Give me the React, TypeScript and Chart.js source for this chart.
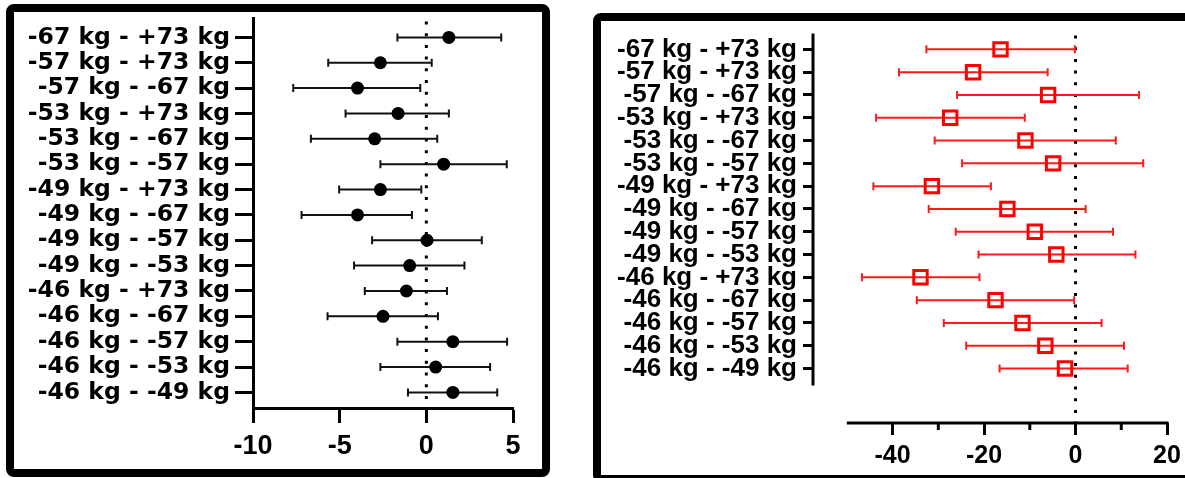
import React, { useEffect, useRef } from "react";
import { Chart, registerables } from "chart.js";

Chart.register(...registerables);

const categories = [
  "-67 kg - +73 kg",
  "-57 kg - +73 kg",
  "-57 kg - -67 kg",
  "-53 kg - +73 kg",
  "-53 kg - -67 kg",
  "-53 kg - -57 kg",
  "-49 kg - +73 kg",
  "-49 kg - -67 kg",
  "-49 kg - -57 kg",
  "-49 kg - -53 kg",
  "-46 kg - +73 kg",
  "-46 kg - -67 kg",
  "-46 kg - -57 kg",
  "-46 kg - -53 kg",
  "-46 kg - -49 kg",
];

// Left panel (black circles)
const leftMean = [1.3, -2.65, -3.97, -1.63, -2.98, 1.0, -2.65, -3.97, 0.04, -0.96, -1.15, -2.5, 1.53, 0.54, 1.53];
const leftLow = [-1.67, -5.66, -7.68, -4.66, -6.66, -2.65, -5.03, -7.2, -3.13, -4.17, -3.55, -5.7, -1.67, -2.65, -1.06];
const leftHigh = [4.32, 0.31, -0.35, 1.3, 0.63, 4.64, -0.29, -0.83, 3.2, 2.2, 1.19, 0.67, 4.66, 3.68, 4.09];

// Right panel (red open squares)
const rightMean = [-16.4, -22.4, -6.0, -27.4, -10.95, -4.9, -31.4, -14.9, -8.9, -4.2, -33.9, -17.5, -11.6, -6.6, -2.3];
const rightLow = [-32.6, -38.6, -25.9, -43.6, -30.8, -24.8, -44.2, -32.1, -26.2, -21.2, -46.7, -34.7, -28.8, -23.9, -16.6];
const rightHigh = [-0.15, -6.1, 13.9, -11.1, 8.8, 14.8, -18.5, 2.2, 8.2, 13.1, -21.0, -0.3, 5.7, 10.6, 11.4];

const leftXTicks = [-10, -5, 0, 5];
const rightXTicks = [-40, -20, 0, 20];
const rightMinorTicks = [-30, -10, 10];
const rightAxisStart = -50;

function errorBarPlugin(low: number[], high: number[], color: string, capHalf: number, lw: number) {
  return {
    id: "errorBars",
    beforeDatasetsDraw(chart: any) {
      const { ctx } = chart;
      const x = chart.scales.x;
      const y = chart.scales.y;
      ctx.save();
      ctx.strokeStyle = color;
      ctx.lineWidth = lw;
      ctx.lineCap = "butt";
      low.forEach((lo, i) => {
        const py = y.getPixelForValue(i + 1);
        const x1 = x.getPixelForValue(lo);
        const x2 = x.getPixelForValue(high[i]);
        ctx.beginPath();
        ctx.moveTo(x1, py);
        ctx.lineTo(x2, py);
        ctx.moveTo(x1, py - capHalf);
        ctx.lineTo(x1, py + capHalf);
        ctx.moveTo(x2, py - capHalf);
        ctx.lineTo(x2, py + capHalf);
        ctx.stroke();
      });
      ctx.restore();
    },
  };
}

function zeroLinePlugin(topOffset: number) {
  return {
    id: "zeroLine",
    beforeDatasetsDraw(chart: any) {
      const { ctx, chartArea } = chart;
      const px = chart.scales.x.getPixelForValue(0);
      ctx.save();
      ctx.strokeStyle = "#000";
      ctx.lineWidth = 3;
      ctx.setLineDash([3, 8.7]);
      ctx.beginPath();
      ctx.moveTo(px, chartArea.top + topOffset);
      ctx.lineTo(px, chartArea.bottom);
      ctx.stroke();
      ctx.restore();
    },
  };
}

const offsetAxesPlugin = {
  id: "offsetAxes",
  afterDatasetsDraw(chart: any) {
    const { ctx, chartArea } = chart;
    const x = chart.scales.x;
    const y = chart.scales.y;
    ctx.save();
    ctx.strokeStyle = "#000";
    ctx.lineWidth = 3;
    ctx.lineCap = "butt";
    // y axis line (ends above the x axis)
    ctx.beginPath();
    ctx.moveTo(chartArea.left, chartArea.top);
    ctx.lineTo(chartArea.left, y.getPixelForValue(15.74));
    ctx.stroke();
    // x axis line
    const by = chartArea.bottom;
    ctx.beginPath();
    ctx.moveTo(x.getPixelForValue(rightAxisStart), by);
    ctx.lineTo(x.getPixelForValue(20) + 1.5, by);
    ctx.stroke();
    // minor ticks
    rightMinorTicks.forEach((v) => {
      const px = x.getPixelForValue(v);
      ctx.beginPath();
      ctx.moveTo(px, by);
      ctx.lineTo(px, by + 7);
      ctx.stroke();
    });
    ctx.restore();
  },
};

function fixWidth(w: number) {
  return (s: any) => {
    s.width = w;
    s.paddingTop = 0;
    s.paddingBottom = 0;
  };
}

function fixHeight(h: number) {
  return (s: any) => {
    s.height = h;
    s.paddingLeft = 0;
    s.paddingRight = 0;
  };
}

function leftConfig(): any {
  return {
    type: "scatter",
    data: {
      datasets: [
        {
          data: leftMean.map((m, i) => ({ x: m, y: i + 1 })),
          pointRadius: 6.5,
          pointBackgroundColor: "#000",
          pointBorderWidth: 0,
          showLine: false,
        },
      ],
    },
    options: {
      animation: false,
      responsive: false,
      devicePixelRatio: 1,
      events: [],
      layout: { padding: { left: 0, right: 29, top: 4, bottom: 0 } },
      plugins: { legend: { display: false }, tooltip: { enabled: false } },
      scales: {
        x: {
          type: "linear",
          min: -10,
          max: 5,
          afterBuildTicks: (s: any) => {
            s.ticks = leftXTicks.map((v) => ({ value: v }));
          },
          afterFit: fixHeight(60),
          ticks: {
            callback: (v: any) => String(v),
            font: { family: "Liberation Sans", size: 27, weight: "bold" },
            color: "#000",
            padding: 7,
            maxRotation: 0,
            autoSkip: false,
          },
          grid: { drawOnChartArea: false, drawTicks: true, tickLength: 15, tickWidth: 3, tickColor: "#000" },
          border: { display: true, color: "#000", width: 3 },
        },
        y: {
          type: "linear",
          reverse: true,
          min: 0.255,
          max: 15.615,
          afterBuildTicks: (s: any) => {
            s.ticks = categories.map((_, i) => ({ value: i + 1 }));
          },
          afterFit: fixWidth(239),
          ticks: {
            callback: (v: any) => categories[Math.round(v) - 1] ?? "",
            font: { family: "DejaVu Sans", size: 23.5, weight: "bold" },
            color: "#000",
            padding: 5,
            autoSkip: false,
          },
          grid: { drawOnChartArea: false, drawTicks: true, tickLength: 18, tickWidth: 3, tickColor: "#000" },
          border: { display: true, color: "#000", width: 3 },
        },
      },
    },
    plugins: [zeroLinePlugin(3), errorBarPlugin(leftLow, leftHigh, "#111", 4, 2)],
  };
}

function rightConfig(): any {
  return {
    type: "scatter",
    data: {
      datasets: [
        {
          data: rightMean.map((m, i) => ({ x: m, y: i + 1 })),
          pointStyle: "rect",
          pointRadius: 9.5,
          pointBackgroundColor: "rgba(0,0,0,0)",
          pointBorderColor: "#ff0000",
          pointBorderWidth: 3,
          showLine: false,
        },
      ],
    },
    options: {
      animation: false,
      responsive: false,
      devicePixelRatio: 1,
      events: [],
      layout: { padding: { left: 0, right: 18, top: 9, bottom: 0 } },
      plugins: { legend: { display: false }, tooltip: { enabled: false } },
      scales: {
        x: {
          type: "linear",
          min: -57.4,
          max: 20,
          afterBuildTicks: (s: any) => {
            s.ticks = rightXTicks.map((v) => ({ value: v }));
          },
          afterFit: fixHeight(52),
          ticks: {
            callback: (v: any) => String(v),
            font: { family: "Liberation Sans", size: 25, weight: "bold" },
            color: "#000",
            padding: 6,
            maxRotation: 0,
            autoSkip: false,
          },
          grid: { drawOnChartArea: false, drawTicks: true, tickLength: 12, tickWidth: 3, tickColor: "#000" },
          border: { display: false },
        },
        y: {
          type: "linear",
          reverse: true,
          min: 0.304,
          max: 17.39,
          afterBuildTicks: (s: any) => {
            s.ticks = categories.map((_, i) => ({ value: i + 1 }));
          },
          afterFit: fixWidth(212),
          ticks: {
            callback: (v: any) => categories[Math.round(v) - 1] ?? "",
            font: { family: "Liberation Sans", size: 26, weight: "bold" },
            color: "#000",
            padding: 6,
            autoSkip: false,
          },
          grid: { drawOnChartArea: false, drawTicks: true, tickLength: 10, tickWidth: 3, tickColor: "#000" },
          border: { display: false },
        },
      },
    },
    plugins: [zeroLinePlugin(2), errorBarPlugin(rightLow, rightHigh, "#ff1a1a", 4, 2), offsetAxesPlugin],
  };
}

function ChartCanvas(props: { left: number; top: number; width: number; height: number; make: () => any }) {
  const ref = useRef<HTMLCanvasElement | null>(null);
  useEffect(() => {
    if (!ref.current) return;
    const chart = new Chart(ref.current, props.make());
    return () => chart.destroy();
  }, []);
  return (
    <canvas
      ref={ref}
      width={props.width}
      height={props.height}
      style={{ position: "absolute", left: props.left, top: props.top, width: props.width, height: props.height }}
    />
  );
}

export default function App() {
  return (
    <div style={{ position: "fixed", left: 0, top: 0, width: 1185, height: 478, overflow: "hidden", background: "#fff" }}>
      <div
        style={{
          position: "absolute",
          left: 6,
          top: 4,
          width: 544,
          height: 473,
          border: "8px solid #000",
          borderRadius: 8,
          boxSizing: "border-box",
        }}
      />
      <div
        style={{
          position: "absolute",
          left: 593,
          top: 13,
          width: 640,
          height: 470,
          border: "8px solid #000",
          borderRadius: 8,
          boxSizing: "border-box",
        }}
      />
      <ChartCanvas left={14} top={12} width={528} height={456} make={leftConfig} />
      <ChartCanvas left={601} top={21} width={584} height={454} make={rightConfig} />
    </div>
  );
}
